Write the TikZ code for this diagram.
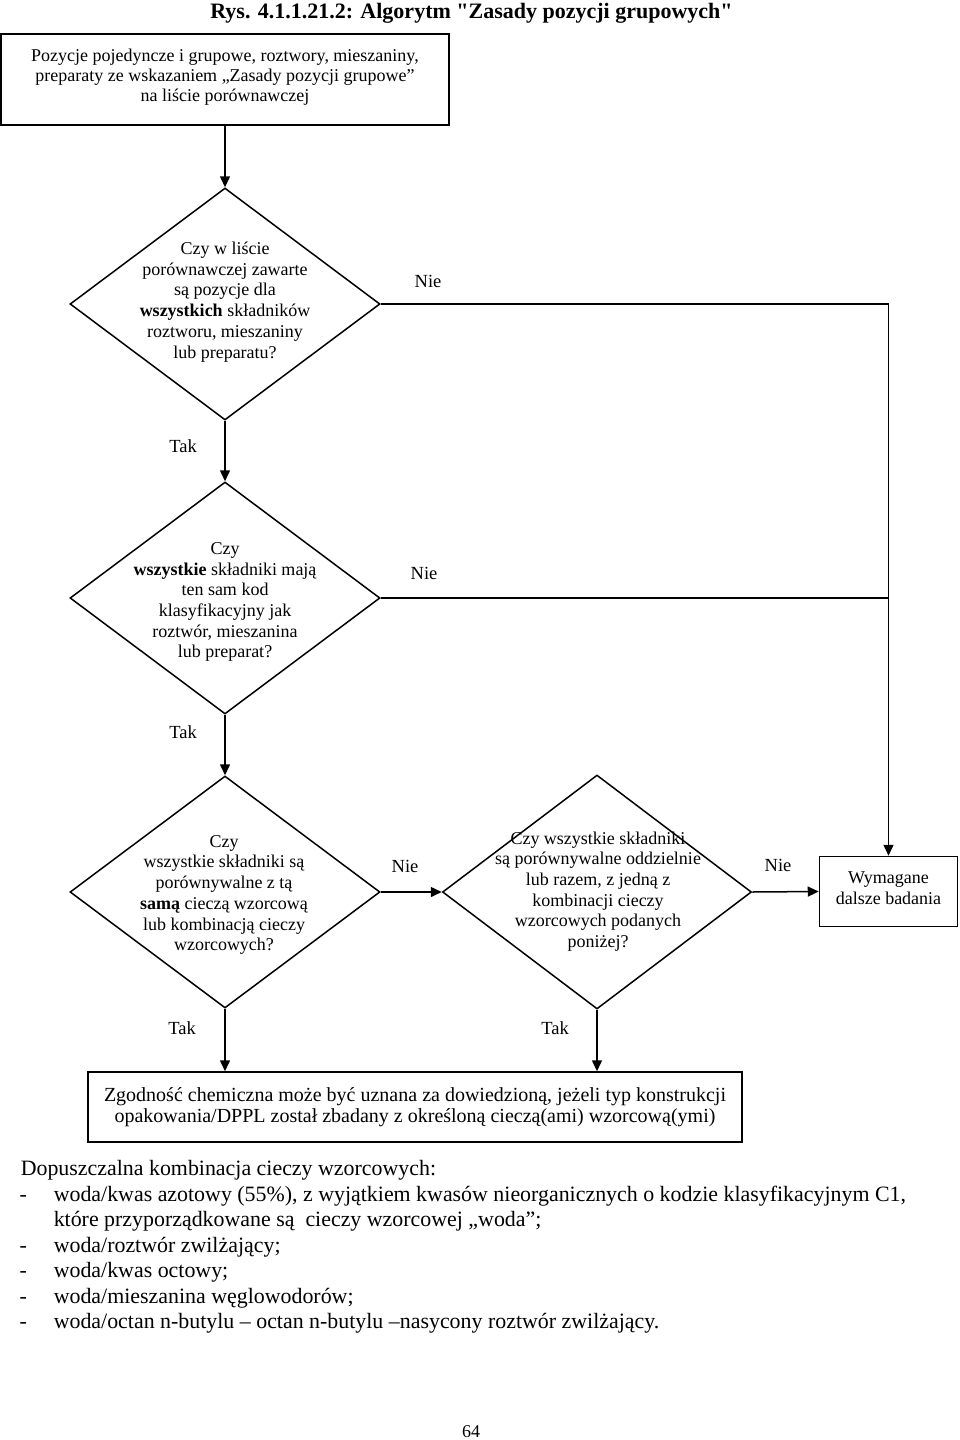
\documentclass[tikz,border=0pt]{standalone}
\usepackage{fontspec}
\setmainfont{Liberation Serif}
\newfontfamily\plainserif{Liberation Serif}
\usetikzlibrary{shapes.geometric,arrows.meta}
\begin{document}
\begin{tikzpicture}[x=1pt,y=-1pt,
  line width=1.5pt,
  dtext/.style={font=\fontsize{18}{20.7}\selectfont, align=center, inner sep=0pt},
  decision/.style={draw, diamond, inner sep=0pt, minimum width=310pt, minimum height=232pt},
  procbox/.style={draw, rectangle, inner sep=0pt},
  lbl/.style={font=\fontsize{18.5}{20}\selectfont, inner sep=0pt},
  listtxt/.style={font=\fontsize{21.9}{25}\selectfont, inner sep=0pt, anchor=base west},
  arr/.style={-{Triangle[length=11pt,width=10pt]}},
]
\useasboundingbox (0,0) rectangle (960,1440);

% title
\node[font=\plainserif\fontsize{22}{24}\selectfont\bfseries, inner sep=0pt] (title) at (471.5,13)
  {Rys. 4.1.1.21.2: Algorytm "Zasady pozycji grupowych"};

% start box
\node[procbox, minimum width=448pt, minimum height=91pt] (start) at (225,79.5) {};
\node[dtext, font=\fontsize{18}{20}\selectfont] (starttxt) at (225,77.5)
  {Pozycje pojedyncze i grupowe, roztwory, mieszaniny,\\
   preparaty ze wskazaniem „Zasady pozycji grupowe”\\
   na liście porównawczej};

% decisions
\node[decision] (d1) at (225,304) {};
\node[dtext] (d1t) at (225,302)
  {Czy w liście\\ porównawczej zawarte\\ są pozycje dla\\
   \textbf{wszystkich} składników\\ roztworu, mieszaniny\\ lub preparatu?};

\node[decision] (d2) at (225,598) {};
\node[dtext] (d2t) at (225,602)
  {Czy\\ \textbf{wszystkie} składniki mają\\ ten sam kod\\ klasyfikacyjny jak\\
   roztwór, mieszanina\\ lub preparat?};

\node[decision] (d3) at (225,892) {};
\node[dtext] (d3t) at (224,895)
  {Czy\\ wszystkie składniki są\\ porównywalne z tą\\ \textbf{samą} cieczą wzorcową\\
   lub kombinacją cieczy\\ wzorcowych?};

\node[decision, minimum width=309pt, minimum height=234pt] (d4) at (597,892) {};
\node[dtext] (d4t) at (598,891.5)
  {Czy wszystkie składniki\\ są porównywalne oddzielnie\\ lub razem, z jedną z\\
   kombinacji cieczy\\ wzorcowych podanych\\ poniżej?};

% further tests box
\node[procbox, minimum width=138pt, minimum height=70pt] (wym) at (888.5,891.5) {};
\node[dtext] (wymt) at (888.5,888) {Wymagane\\ dalsze badania};

% result box
\node[procbox, minimum width=654pt, minimum height=70pt] (bot) at (415,1107) {};
\node[dtext, font=\fontsize{20}{21.5}\selectfont] (bott) at (415,1107)
  {Zgodność chemiczna może być uznana za dowiedzioną, jeżeli typ konstrukcji\\
   opakowania/DPPL został zbadany z określoną cieczą(ami) wzorcową(ymi)};

% connectors
\draw[arr] (start.south) -- (d1.north);
\draw[arr] (d1.south) -- (d2.north);
\draw[arr] (d2.south) -- (d3.north);
\draw[arr] (d1.east) -| (wym.north);
\draw (d2.east) -- (d2.east -| wym.north);
\draw[arr] (d3.east) -- (d4.west);
\draw[arr] (d4.east) -- (wym.west);
\draw[arr] (d3.south) -- (d3.south |- bot.north);
\draw[arr] (d4.south) -- (d4.south |- bot.north);

% labels
\node[lbl] (n1) at (428,281) {Nie};
\node[lbl] (n2) at (424,573) {Nie};
\node[lbl] (n3) at (405,866) {Nie};
\node[lbl] (n4) at (778,865) {Nie};
\node[lbl] (t1) at (183,446) {Tak};
\node[lbl] (t2) at (183,732) {Tak};
\node[lbl] (t3) at (182,1028) {Tak};
\node[lbl] (t4) at (555,1028) {Tak};

% list
\node[listtxt] (l0) at (20,1175) {Dopuszczalna kombinacja cieczy wzorcowych:};
\node[listtxt] (b1) at (19,1201) {-};
\node[listtxt] (l1) at (53,1201) {woda/kwas azotowy (55\%), z wyjątkiem kwasów nieorganicznych o kodzie klasyfikacyjnym C1,};
\node[listtxt] (l1b) at (53,1226.5) {które przyporządkowane są\hspace{0.25em} cieczy wzorcowej „woda”;};
\node[listtxt] (b2) at (19,1252) {-};
\node[listtxt] (l2) at (53,1252) {woda/roztwór zwilżający;};
\node[listtxt] (b3) at (19,1277.5) {-};
\node[listtxt] (l3) at (53,1277.5) {woda/kwas octowy;};
\node[listtxt] (b4) at (19,1303) {-};
\node[listtxt] (l4) at (53,1303) {woda/mieszanina węglowodorów;};
\node[listtxt] (b5) at (19,1328.5) {-};
\node[listtxt] (l5) at (53,1328.5) {woda/octan n-butylu – octan n-butylu –nasycony roztwór zwilżający.};

% page number
\node[font=\fontsize{18}{20}\selectfont, inner sep=0pt] (pg) at (471,1432) {64};
\end{tikzpicture}
\end{document}
